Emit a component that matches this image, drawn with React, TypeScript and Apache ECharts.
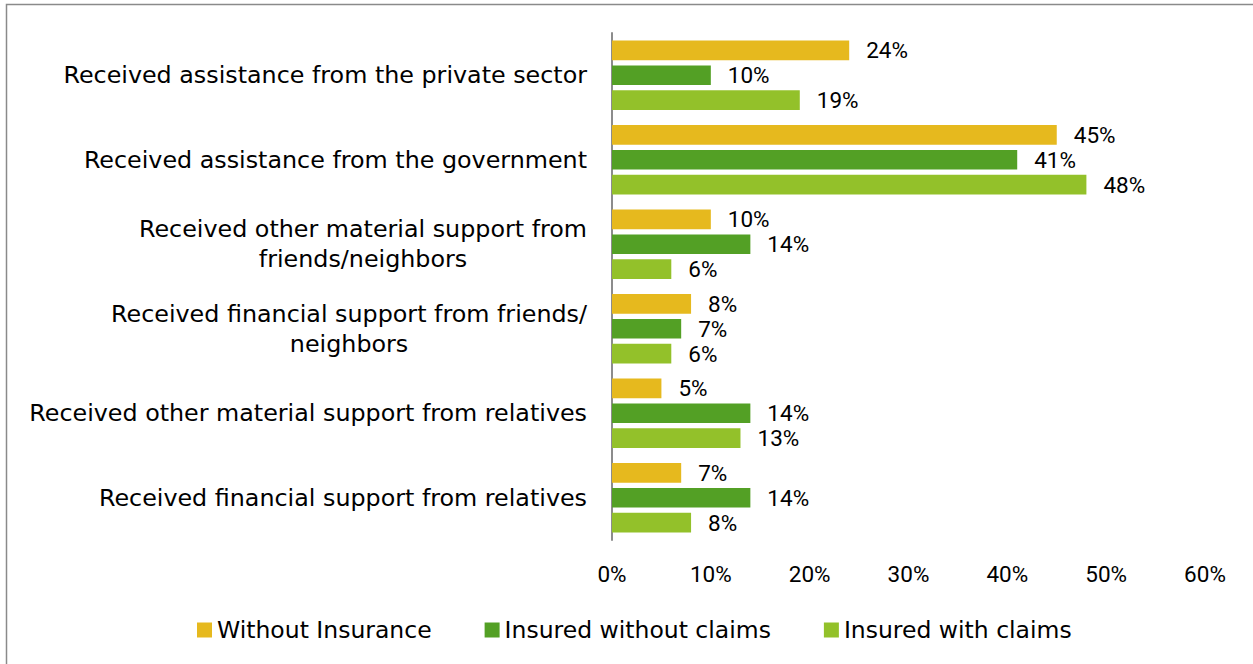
import React, { useEffect, useRef } from "react";
import * as echarts from "echarts";

const categories = [
  "Received assistance from the private sector",
  "Received assistance from the government",
  "Received other material support from\nfriends/neighbors",
  "Received financial support from friends/\nneighbors",
  "Received other material support from relatives",
  "Received financial support from relatives",
];
const seriesNames = ["Without Insurance", "Insured without claims", "Insured with claims"];
const withoutInsurance = [24, 45, 10, 8, 5, 7];
const insuredWithoutClaims = [10, 41, 14, 7, 14, 14];
const insuredWithClaims = [19, 48, 6, 6, 13, 8];
const colors = ["#E6B91E", "#53A025", "#93C12A"];
const xTicks = { min: 0, max: 60, interval: 10 };

const TEXT_FONT = "DejaVu Sans";
const NUM_FONT = "Roboto";

export default function App() {
  const ref = useRef<HTMLDivElement>(null);
  useEffect(() => {
    if (!ref.current) return;
    const chart = echarts.init(ref.current, null, { renderer: "svg" });
    const values = [withoutInsurance, insuredWithoutClaims, insuredWithClaims];
    chart.setOption({
      animation: false,
      backgroundColor: "#ffffff",
      grid: { left: 612, right: 48, top: 33, bottom: 124, containLabel: false },
      legend: {
        left: 197,
        top: 618,
        padding: 0,
        itemWidth: 15,
        itemHeight: 15,
        itemGap: 53,
        icon: "rect",
        textStyle: { fontFamily: TEXT_FONT, fontSize: 23.5, color: "#000" },
        data: seriesNames,
      },
      xAxis: {
        type: "value",
        min: xTicks.min,
        max: xTicks.max,
        interval: xTicks.interval,
        axisLine: { show: false },
        axisTick: { show: false },
        splitLine: { show: false },
        axisLabel: {
          formatter: "{value}%",
          fontFamily: NUM_FONT,
          fontSize: 22.5,
          color: "#000",
          margin: 22,
        },
      },
      yAxis: {
        type: "category",
        inverse: true,
        data: categories,
        axisTick: { show: false },
        axisLine: { show: true, lineStyle: { color: "#8c8c8c", width: 2 } },
        axisLabel: {
          margin: 25,
          align: "right",
          formatter: (v: string) =>
            v
              .split("\n")
              .map((line) => `{c|${line}}`)
              .join("\n"),
          rich: {
            c: {
              fontFamily: TEXT_FONT,
              fontSize: 23.8,
              color: "#000",
              lineHeight: 30,
              align: "center",
            },
          },
        },
      },
      series: seriesNames.map((name, i) => ({
        name,
        type: "bar",
        data: values[i],
        itemStyle: { color: colors[i] },
        barCategoryGap: "18%",
        barGap: "27%",
        label: {
          show: true,
          position: "right",
          distance: 17,
          formatter: "{c}%",
          fontFamily: NUM_FONT,
          fontSize: 22.5,
          color: "#000",
        },
      })),
      graphic: [
        {
          type: "polyline",
          silent: true,
          shape: { points: [[6.5, 664], [6.5, 4.5], [1253, 4.5]] },
          style: { stroke: "#8a8a8a", lineWidth: 1.5, fill: null },
        },
      ],
    });
    return () => chart.dispose();
  }, []);
  return (
    <div
      ref={ref}
      style={{ position: "fixed", left: 0, top: 0, width: 1253, height: 664, background: "#fff" }}
    />
  );
}
